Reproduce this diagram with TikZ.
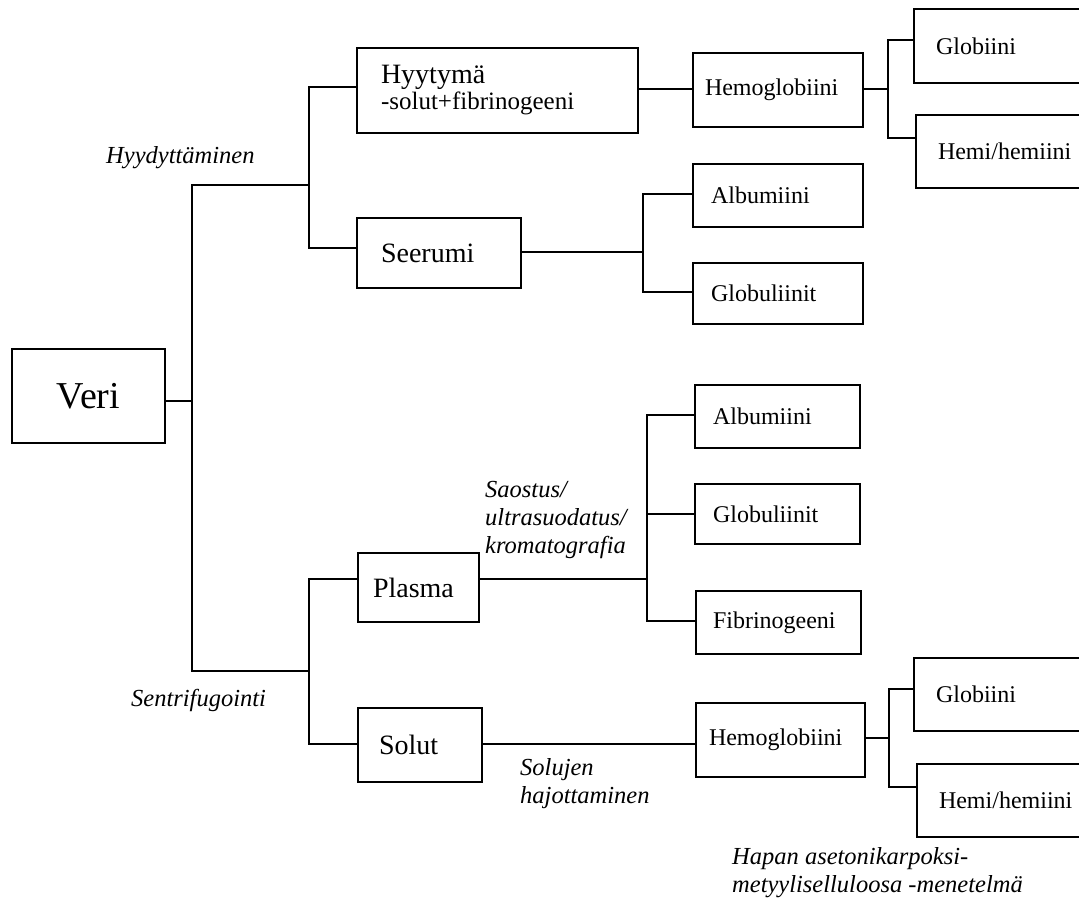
\documentclass[tikz,border=0pt]{standalone}
\usepackage{fontspec}
\setmainfont{Liberation Serif}
\newfontfamily\tnr{Liberation Serif}
\begin{document}
\begin{tikzpicture}[x=1pt,y=-1pt,
  bx/.style={draw, line width=2pt, anchor=north west, align=left, inner ysep=0pt,
    font=\tnr\fontsize{24}{28}\selectfont},
  bxl/.style={bx, font=\tnr\fontsize{28}{30}\selectfont},
  lab/.style={inner sep=0pt, align=left, font=\tnr\fontsize{24.5}{28}\selectfont\itshape},
  ln/.style={line width=2pt, line join=miter}]
\useasboundingbox (0,0) rectangle (1079,899);
% boxes
\node[bx, minimum width=153pt, minimum height=94pt, align=center, inner xsep=0pt, text width=153pt,
  font=\tnr\fontsize{38}{40}\selectfont] (veri) at (11,348) {Veri};
\node[bx, minimum width=281pt, minimum height=85pt, inner xsep=24pt, text width=233pt] (hyy) at (356,47)
  {{\fontsize{28}{26}\selectfont Hyytymä}\\[-2pt]{\fontsize{25}{26}\selectfont -solut+fibrinogeeni}};
\node[bxl, minimum width=164pt, minimum height=70pt, inner xsep=24pt, text width=116pt] (seer) at (356,217) {Seerumi};
\node[bxl, minimum width=121pt, minimum height=69pt, inner xsep=15pt, text width=91pt] (plas) at (357,552) {Plasma};
\node[bxl, minimum width=124pt, minimum height=74pt, inner xsep=21pt, text width=82pt] (sol) at (357,707) {Solut};
\node[bx, minimum width=170pt, minimum height=74pt, inner xsep=12pt, text width=146pt] (hemo1) at (692,52) {Hemoglobiini};
\node[bx, minimum width=172pt, minimum height=74pt, inner xsep=22pt, text width=128pt] (glob1) at (913,8) {Globiini};
\node[bx, minimum width=172pt, minimum height=73pt, inner xsep=22pt, text width=128pt] (hemi1) at (915,114) {Hemi/hemiini};
\node[bx, minimum width=170pt, minimum height=63pt, inner xsep=18pt, text width=134pt] (alb1) at (692,163) {Albumiini};
\node[bx, minimum width=170pt, minimum height=61pt, inner xsep=18pt, text width=134pt] (glo1) at (692,262) {Globuliinit};
\node[bx, minimum width=165pt, minimum height=63pt, inner xsep=18pt, text width=129pt] (alb2) at (694,384) {Albumiini};
\node[bx, minimum width=165pt, minimum height=60pt, inner xsep=18pt, text width=129pt] (glo2) at (694,483) {Globuliinit};
\node[bx, minimum width=165pt, minimum height=63pt, inner xsep=17pt, text width=131pt] (fib) at (695,590) {Fibrinogeeni};
\node[bx, minimum width=169pt, minimum height=74pt, inner xsep=13pt, text width=143pt] (hemo2) at (695,702) {Hemoglobiini};
\node[bx, minimum width=172pt, minimum height=73pt, inner xsep=22pt, text width=128pt] (glob2) at (913,657) {Globiini};
\node[bx, minimum width=172pt, minimum height=73pt, inner xsep=22pt, text width=128pt] (hemi2) at (916,763) {Hemi/hemiini};
% labels
\node[lab, anchor=west] (lhyy) at (106,158) {Hyydyttäminen};
\node[lab, anchor=west] (lsent) at (131,700) {Sentrifugointi};
\node[lab, anchor=west] (lsao) at (485,520) {Saostus/\\ultrasuodatus/\\kromatografia};
\node[lab, anchor=west] (lsolu) at (520,784) {Solujen\\hajottaminen};
\node[lab, anchor=west] (lhap) at (732,873) {Hapan asetonikarpoksi-\\metyyliselluloosa -menetelmä};
% junction coordinates
\coordinate (v0) at (192,401);
\coordinate (f0t) at (192,185);
\coordinate (f0b) at (192,671);
\coordinate (f1m) at (309,185);
\coordinate (f2m) at (309,671);
\coordinate (f1t) at (309,87);
\coordinate (f1b) at (309,248);
\coordinate (f2t) at (309,579);
\coordinate (f2b) at (309,744);
\coordinate (h1) at (660,89);
\coordinate (g1m) at (888,89);
\coordinate (g1t) at (888,40);
\coordinate (g1b) at (888,138);
\coordinate (s1m) at (643,252);
\coordinate (s1t) at (643,194);
\coordinate (s1b) at (643,292);
\coordinate (p1m) at (647,579);
\coordinate (p1t) at (647,415);
\coordinate (p1c) at (647,514);
\coordinate (p1b) at (647,621);
\coordinate (q1) at (600,744);
\coordinate (g2m) at (889,738);
\coordinate (g2t) at (889,689);
\coordinate (g2b) at (889,787);
% connectors
\draw[ln] (veri.east |- v0) -- (v0);
\draw[ln] (f1m) -- (f0t) -- (f0b) -- (f2m);
\draw[ln] (hyy.west |- f1t) -- (f1t) -- (f1b) -- (seer.west |- f1b);
\draw[ln] (plas.west |- f2t) -- (f2t) -- (f2b) -- (sol.west |- f2b);
\draw[ln] (hyy.east |- h1) -- (hemo1.west |- h1);
\draw[ln] (hemo1.east |- g1m) -- (g1m);
\draw[ln] (glob1.west |- g1t) -- (g1t) -- (g1b) -- (hemi1.west |- g1b);
\draw[ln] (seer.east |- s1m) -- (s1m);
\draw[ln] (alb1.west |- s1t) -- (s1t) -- (s1b) -- (glo1.west |- s1b);
\draw[ln] (plas.east |- p1m) -- (p1m);
\draw[ln] (alb2.west |- p1t) -- (p1t) -- (p1b) -- (fib.west |- p1b);
\draw[ln] (p1c) -- (glo2.west |- p1c);
\draw[ln] (sol.east |- q1) -- (hemo2.west |- q1);
\draw[ln] (hemo2.east |- g2m) -- (g2m);
\draw[ln] (glob2.west |- g2t) -- (g2t) -- (g2b) -- (hemi2.west |- g2b);
\end{tikzpicture}
\end{document}
